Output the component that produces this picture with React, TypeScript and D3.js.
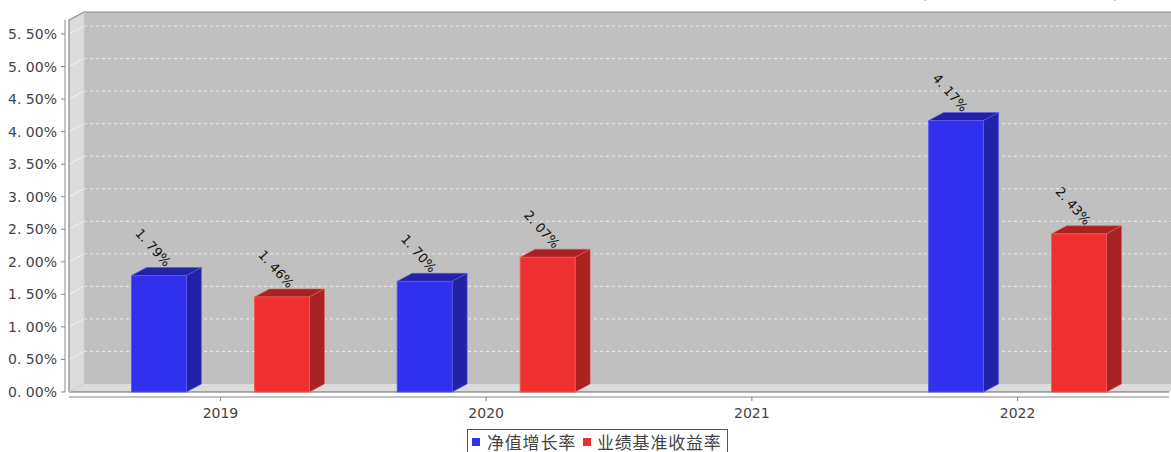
import React from "react";
import * as d3 from "d3";

const years = ["2019", "2020", "2021", "2022"];
const seriesNames = ["净值增长率", "业绩基准收益率"];
const navGrowth: (number | null)[] = [1.79, 1.70, null, 4.17];
const benchmark: (number | null)[] = [1.46, 2.07, null, 2.43];
const yTicks = [0, 0.5, 1, 1.5, 2, 2.5, 3, 3.5, 4, 4.5, 5, 5.5];
const seriesValues = [navGrowth, benchmark];
const titleText = "(2019-2022年)";

const W = 1171;
const H = 452;
const DX = 15;
const DY = 8;
const X0 = 69;
const X1 = 1169;
const YT = 20;
const YB = 392;

const frontColors = ["#3030ee", "#ee3030"];
const sideColors = ["#2222a8", "#a82222"];
const edgeColors = ["#5a5af0", "#f05a5a"];

const fmt = (v: number) => {
  const s = v.toFixed(2);
  const [a, b] = s.split(".");
  return `${a}. ${b}%`;
};

export default function App() {
  const y = d3.scaleLinear().domain([0, 5.5]).range([YB, 34]);
  const x = d3.scalePoint<string>().domain(years).range([X0, X1]).padding(0.57);
  const inner = d3
    .scaleBand<string>()
    .domain(seriesNames)
    .range([-89, 89])
    .paddingInner(0.553);
  const bw = inner.bandwidth();
  const pts = (arr: [number, number][]) => arr.map((p) => p.join(",")).join(" ");
  const axisColor = "#888";
  const font = "'DejaVu Sans', sans-serif";

  return (
    <svg
      width={W}
      height={H}
      style={{ position: "absolute", left: 0, top: 0, background: "#fff" }}
    >
      {/* partial title */}
      <text
        x={921}
        y={-2}
        fontSize={16}
        fontFamily={font}
        fill="#333"
        textLength={198}
        lengthAdjust="spacing"
      >
        {titleText}
      </text>

      {/* back wall */}
      <polygon
        points={pts([
          [X0 + DX, YT - DY],
          [X1 + DX, YT - DY],
          [X1 + DX, YB - DY],
          [X0 + DX, YB - DY],
        ])}
        fill="#c0c0c0"
      />
      {/* left wall */}
      <polygon
        points={pts([
          [X0, YT],
          [X0 + DX, YT - DY],
          [X0 + DX, YB - DY],
          [X0, YB],
        ])}
        fill="#dcdcdc"
      />
      {/* floor */}
      <polygon
        points={pts([
          [X0, YB],
          [X0 + DX, YB - DY],
          [X1 + DX, YB - DY],
          [X1, YB],
        ])}
        fill="#dcdcdc"
      />
      {/* gridlines */}
      {yTicks
        .filter((t) => t > 0)
        .map((t) => (
          <g key={`g${t}`}>
            <line
              x1={X0 + DX}
              x2={X1 + DX}
              y1={y(t) - DY}
              y2={y(t) - DY}
              stroke="#ececec"
              strokeDasharray="3,3"
              strokeWidth={1}
            />
            <line
              x1={X0}
              x2={X0 + DX}
              y1={y(t)}
              y2={y(t) - DY}
              stroke="#f2f2f2"
              strokeWidth={1}
            />
          </g>
        ))}
      {/* wall outlines */}
      <polyline
        points={pts([
          [X0, YB],
          [X0, YT],
          [X0 + DX, YT - DY],
          [X1 + DX, YT - DY],
        ])}
        fill="none"
        stroke={axisColor}
        strokeWidth={1.2}
      />
      <line x1={X0 + DX} x2={X0 + DX} y1={YT - DY} y2={YB - DY} stroke="#d0d0d0" />
      <line x1={X0} x2={X1} y1={YB} y2={YB} stroke="#666" strokeWidth={1.2} />
      <line x1={X0} x2={X0 + DX} y1={YB} y2={YB - DY} stroke="#cfcfcf" />

      {/* bars */}
      {years.map((yr, i) =>
        seriesNames.map((s, si) => {
          const v = seriesValues[si][i];
          if (v == null) return null;
          const bx = (x(yr) as number) + (inner(s) as number);
          const by = y(v);
          return (
            <g key={`${yr}-${s}`}>
              <polygon
                points={pts([
                  [bx, by],
                  [bx + DX, by - DY],
                  [bx + bw + DX, by - DY],
                  [bx + bw, by],
                ])}
                fill={sideColors[si]}
                stroke={edgeColors[si]}
                strokeWidth={0.6}
              />
              <polygon
                points={pts([
                  [bx + bw, by],
                  [bx + bw + DX, by - DY],
                  [bx + bw + DX, YB - DY],
                  [bx + bw, YB],
                ])}
                fill={sideColors[si]}
                stroke={edgeColors[si]}
                strokeWidth={0.6}
              />
              <rect
                x={bx}
                y={by}
                width={bw}
                height={YB - by}
                fill={frontColors[si]}
                stroke={edgeColors[si]}
                strokeWidth={0.8}
              />
              <text
                transform={`translate(${bx + bw / 2 + 6},${by - 8}) rotate(48)`}
                textAnchor="end"
                fontSize={13}
                fontFamily={font}
                fill="#111"
              >
                {fmt(v)}
              </text>
            </g>
          );
        })
      )}

      {/* y axis */}
      <line x1={65} x2={65} y1={YT} y2={YB} stroke={axisColor} />
      {yTicks.map((t) => (
        <g key={`t${t}`}>
          <line x1={61} x2={65} y1={y(t)} y2={y(t)} stroke={axisColor} />
          <text
            x={57}
            y={y(t)}
            dy="0.36em"
            textAnchor="end"
            fontSize={14}
            fontFamily={font}
            fill="#444"
          >
            {fmt(t)}
          </text>
        </g>
      ))}

      {/* x axis */}
      <line x1={X0} x2={X1} y1={397} y2={397} stroke={axisColor} strokeWidth={1.2} />
      {years.map((yr) => (
        <g key={`c${yr}`}>
          <line
            x1={x(yr) as number}
            x2={x(yr) as number}
            y1={397}
            y2={401}
            stroke={axisColor}
          />
          <text
            x={x(yr) as number}
            y={418}
            textAnchor="middle"
            fontSize={14}
            fontFamily={font}
            fill="#444"
          >
            {yr}
          </text>
        </g>
      ))}

      {/* legend */}
      <rect x={467.5} y={429.5} width={260} height={30} fill="#fff" stroke="#555" />
      <rect x={472} y={438} width={8} height={8} fill={frontColors[0]} />
      <text
        x={487}
        y={449}
        fontSize={17}
        letterSpacing={0.8}
        fontFamily="'Noto Sans CJK SC', sans-serif"
        fill="#444"
      >
        {seriesNames[0]}
      </text>
      <rect x={583} y={438} width={8} height={8} fill={frontColors[1]} />
      <text
        x={597}
        y={449}
        fontSize={17}
        letterSpacing={0.8}
        fontFamily="'Noto Sans CJK SC', sans-serif"
        fill="#444"
      >
        {seriesNames[1]}
      </text>
    </svg>
  );
}
